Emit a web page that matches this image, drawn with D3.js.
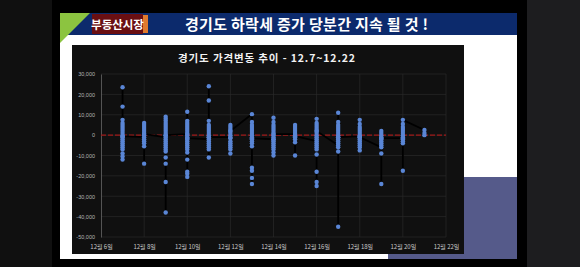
<!DOCTYPE html>
<html>
<head>
<meta charset="utf-8">
<script src="https://cdn.jsdelivr.net/npm/d3@7"></script>
<style>
  html, body { margin: 0; padding: 0; background: #000; }
  svg { display: block; }
  text { font-family: "Noto Sans CJK KR", "Noto Sans", sans-serif; }
</style>
</head>
<body>
<script>
// dias del eje x (12월 N일)
const tickDays = [6, 8, 10, 12, 14, 16, 18, 20, 22];
const yTicks = [30000, 20000, 10000, 0, -10000, -20000, -30000, -40000, -50000];

// valores por dia, en miles (orden = orden de la linea)
const d07 = [0, 3, 23.5, 7.5, 6, 5, 4, 2, 1, -1, -2, 14, -3, -4, -5, -6, -7, -9, -10.5, -12, -0.5];
const d08 = [-1, 6, 5, 4, 3, 2, 1, 0, -2, -3, -4, -5.5, -14, 0.5];
const d09 = [-1, 9, 8, 7, 6, 5, 4, 3, 2, 1, 0, -2, -3, -4, -5, -6, -7, -8, -11, -14, -23, -38, 0];
const d10 = [0.5, 11.5, 7, 6, 5, 4, 3, 2, 1, 0, -1, -2, -3, -4, -5, -6, -7, -8.5, -12, -18, -19, -20.5, -1.5];
const d11 = [-2, 24, 17, 7, 5, 4, 3, 2, 1, 0, -1, -3, -4, -5, -6, -7, -11, -1];
const d12 = [-1, 5, 4, 3, 2, 1, 0, -1.5, -3, -4, -5, -6, -7, -9, 2];
const d13 = [10.3, 6.5, 5, 4, 3, 2, 1, 0, -1, -2, -3, -4, -5.5, -16, -17.5, -21, -24, -1.5];
const d14 = [-2, 8.5, 6.5, 5, 4, 3, 2, 1, 0, -1, -2, -3, -4, -5, -6, -7, -8.5, -10, 0.5];
const d15 = [0.5, 5, 4, 3, 2, 1, 0, -1, -2, -3.5, -10, -0.5];
const d16 = [-3, 8, 6, 5, 4, 3, 2, 1, 0, -1, -2, -4, -5, -6, -7, -9.5, -18, -23, -25, 2];
const d17 = [-5, 11, 6.5, 5, 4, 3, 2, 1, 0, -1, -2, -3, -4, -6, -8, -45, -1];
const d18 = [-0.5, 7.5, 5.5, 4, 3, 2, 1, 0, -1, -2, -3, -4, -5, -6, -7.5, -1];
const d19 = [-6, 2, 1, 0, -1, -2, -3, -4, -5, -9, -24, -1.5];
const d20 = [-1.5, 5.5, 4, 3, 2, 1, 0, -1, -2, -3, -4, -17.5, 7.5];
const d21 = [2.5, 1, 0];

const days = [7, 8, 9, 10, 11, 12, 13, 14, 15, 16, 17, 18, 19, 20, 21];
const dayValues = [d07, d08, d09, d10, d11, d12, d13, d14, d15, d16, d17, d18, d19, d20, d21];

const points = [];
days.forEach((day, i) => {
    dayValues[i].forEach(v => points.push({ day: day, value: v * 1000 }));
});

const svg = d3.select("body").append("svg")
    .attr("width", 580)
    .attr("height", 267);

// fondo de la pantalla / diapositiva
svg.append("rect").attr("x", 0).attr("y", 0).attr("width", 580).attr("height", 267).attr("fill", "#000");
svg.append("rect").attr("x", 0).attr("y", 0).attr("width", 52).attr("height", 267).attr("fill", "#101010");
svg.append("rect").attr("x", 527).attr("y", 0).attr("width", 53).attr("height", 267).attr("fill", "#1d1d1f");
svg.append("rect").attr("x", 60).attr("y", 13).attr("width", 457).attr("height", 246).attr("fill", "#fff");
svg.append("rect").attr("x", 388).attr("y", 177).attr("width", 129).attr("height", 82).attr("fill", "#555a8a");

// cabecera
svg.append("rect").attr("x", 60).attr("y", 13).attr("width", 457).attr("height", 22).attr("fill", "#0c2a6c");
svg.append("polygon").attr("points", "60,13 90,13 60,43").attr("fill", "#8cc440");
svg.append("rect").attr("x", 92).attr("y", 14).attr("width", 51).attr("height", 20).attr("fill", "#6a0f12");
svg.append("rect").attr("x", 143).attr("y", 15).attr("width", 5).attr("height", 18).attr("fill", "#e07a2e");
svg.append("text")
    .attr("x", 117.5).attr("y", 28.5)
    .attr("text-anchor", "middle")
    .attr("fill", "#fff")
    .style("font-size", "11.5px")
    .style("font-weight", "bold")
    .text("부동산시장");
svg.append("text")
    .attr("x", 185).attr("y", 29.5)
    .attr("fill", "#fff")
    .attr("textLength", 243)
    .style("font-size", "15px")
    .style("font-weight", "bold")
    .text("경기도 하락세 증가  당분간 지속 될 것 !");

// panel del grafico
svg.append("rect").attr("x", 72).attr("y", 45).attr("width", 392).attr("height", 209).attr("fill", "#101010");
svg.append("text")
    .attr("x", 178).attr("y", 62)
    .attr("fill", "#f2f2f2")
    .attr("textLength", 177)
    .style("font-size", "10.5px")
    .style("font-weight", "bold")
    .text("경기도 가격변동 추이 - 12.7~12.22");

const margin = { left: 101, right: 446, top: 74, bottom: 237 };

const xScale = d3.scaleLinear()
    .domain([6, 22])
    .range([margin.left, margin.right]);

const yScale = d3.scaleLinear()
    .domain([-50000, 30000])
    .range([margin.bottom, margin.top]);

const fmt = d3.formatLocale({ decimal: ".", thousands: ",", grouping: [3], currency: ["", ""], minus: "-" }).format(",");

// rejilla
svg.append("g").selectAll("line")
    .data(yTicks)
    .enter()
    .append("line")
    .attr("x1", margin.left).attr("x2", margin.right)
    .attr("y1", d => yScale(d)).attr("y2", d => yScale(d))
    .attr("stroke", "#2a2a2a")
    .attr("stroke-width", 0.7);

svg.append("g").selectAll("line")
    .data(tickDays.slice(1))
    .enter()
    .append("line")
    .attr("x1", d => xScale(d)).attr("x2", d => xScale(d))
    .attr("y1", margin.top).attr("y2", margin.bottom)
    .attr("stroke", "#2a2a2a")
    .attr("stroke-width", 0.7);

// eje y
const axisY = d3.axisLeft(yScale).tickValues(yTicks).tickFormat(fmt).tickSize(0).tickPadding(6);
svg.append("g")
    .attr("transform", `translate(${margin.left}, 0)`)
    .call(axisY)
    .call(g => g.select(".domain").attr("stroke", "#666").attr("stroke-width", 0.8))
    .selectAll("text")
    .attr("fill", "#b5b5b5")
    .style("font-size", "5.5px")
    .style("font-family", "'Liberation Sans', sans-serif");

// eje x (solo etiquetas)
const axisX = d3.axisBottom(xScale).tickValues(tickDays).tickFormat(d => "12월 " + d + "일").tickSize(0).tickPadding(8);
svg.append("g")
    .attr("transform", `translate(0, ${margin.bottom})`)
    .call(axisX)
    .call(g => g.select(".domain").remove())
    .selectAll("text")
    .attr("fill", "#c8c8c8")
    .style("font-size", "6px");

// linea roja en cero
svg.append("line")
    .attr("x1", margin.left).attr("x2", margin.right)
    .attr("y1", yScale(0)).attr("y2", yScale(0))
    .attr("stroke", "#a01818")
    .attr("stroke-width", 1.2)
    .attr("stroke-dasharray", "5,2");

// linea negra que une los puntos
const line = d3.line()
    .x(d => xScale(d.day))
    .y(d => yScale(d.value));

svg.append("path")
    .datum(points)
    .attr("d", line)
    .attr("fill", "none")
    .attr("stroke", "#000")
    .attr("stroke-width", 1.8);

// puntos
svg.append("g").selectAll("circle")
    .data(points)
    .enter()
    .append("circle")
    .attr("cx", d => xScale(d.day))
    .attr("cy", d => yScale(d.value))
    .attr("r", 2.2)
    .attr("fill", "#5a86d6");
</script>
</body>
</html>
